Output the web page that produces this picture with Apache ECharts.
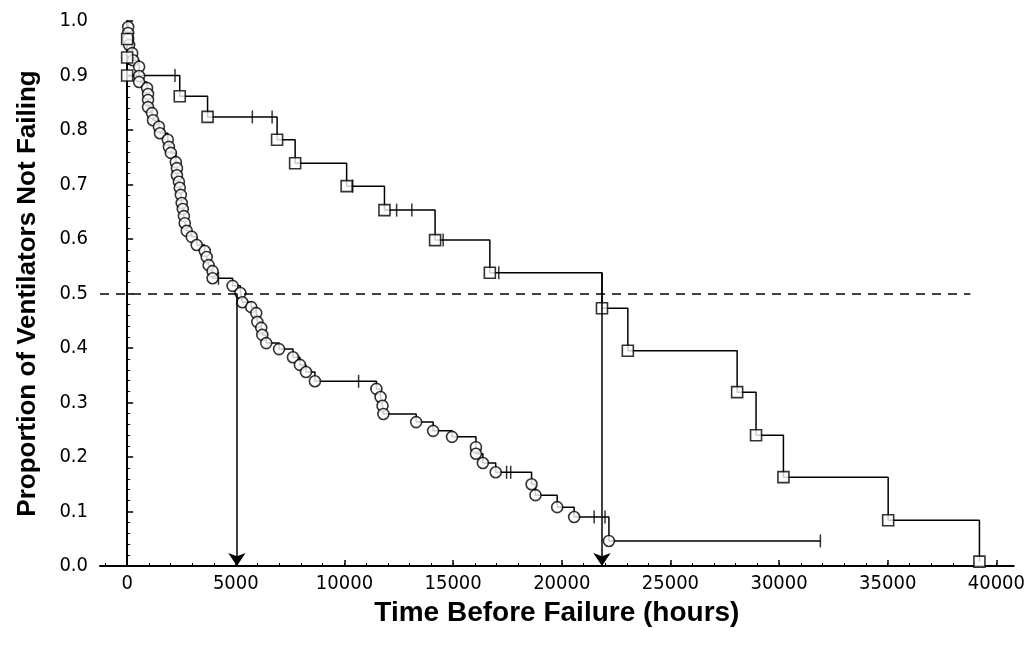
<!DOCTYPE html>
<html>
<head>
<meta charset="utf-8">
<script src="https://cdn.jsdelivr.net/npm/echarts@6/dist/echarts.min.js"></script>
<style>
  html, body { margin: 0; padding: 0; background: #fff; }
  #chart { width: 1028px; height: 649px; }
</style>
</head>
<body>
<div id="chart"></div>
<script>
// survival curve 1 (circles): [hours, proportion]
const circleEvents = [
  [46, 0.989], [46, 0.978], [46, 0.967], [90, 0.956], [230, 0.941], [275, 0.928],
  [550, 0.916], [550, 0.899], [550, 0.888], [915, 0.877], [960, 0.866], [960, 0.855],
  [960, 0.842], [1140, 0.831], [1190, 0.818], [1460, 0.806], [1510, 0.794], [1870, 0.782],
  [1920, 0.769], [2010, 0.758], [2240, 0.741], [2290, 0.730], [2290, 0.717], [2380, 0.705],
  [2420, 0.694], [2470, 0.681], [2510, 0.666], [2560, 0.655], [2610, 0.642], [2650, 0.629],
  [2740, 0.615], [2970, 0.604], [3200, 0.589], [3570, 0.578], [3660, 0.567], [3750, 0.552],
  [3930, 0.541], [3930, 0.528], [4850, 0.514], [5210, 0.501], [5300, 0.484], [5710, 0.475],
  [5940, 0.464], [5990, 0.448], [6170, 0.437], [6220, 0.424], [6400, 0.409], [6990, 0.398],
  [7630, 0.383], [7950, 0.369], [8230, 0.356], [8640, 0.339], [11470, 0.325], [11660, 0.310],
  [11750, 0.294], [11790, 0.279], [13300, 0.264], [14080, 0.248], [14950, 0.237], [16050, 0.218],
  [16050, 0.206], [16370, 0.189], [16960, 0.172], [18610, 0.150], [18790, 0.130], [19790, 0.108],
  [20570, 0.090], [22170, 0.046]
];
const circleCensors = [
  [4200, 0.528], [10650, 0.339], [17460, 0.172], [17650, 0.172],
  [21490, 0.090], [21990, 0.090], [31900, 0.046]
];

// survival curve 2 (squares)
const squareEvents = [
  [0, 0.967], [0, 0.933], [0, 0.900], [2420, 0.862], [3700, 0.824], [6900, 0.782],
  [7730, 0.739], [10100, 0.697], [11840, 0.653], [14170, 0.598], [16690, 0.538],
  [21850, 0.473], [23040, 0.395], [28070, 0.319], [28940, 0.240], [30200, 0.163],
  [35020, 0.084], [39220, 0.008]
];
const squareCensors = [
  [2200, 0.900], [5760, 0.824], [6670, 0.824], [10380, 0.697], [12400, 0.653],
  [13100, 0.653], [14540, 0.598], [17100, 0.538]
];

// median read-off arrows: [hours, start proportion]
const medianArrows = [[5050, 0.5], [21850, 0.538]];
const halfLevel = 0.5;
const halfLineEnd = 38800;

const xMajorTicks = [0, 5000, 10000, 15000, 20000, 25000, 30000, 35000, 40000];
const xMinorTicks = [-1000, 0, 1000, 2000, 3000, 4000, 5000, 6000, 7000, 8000, 9000, 10000,
  11000, 12000, 13000, 14000, 15000, 16000, 17000, 18000, 19000, 20000, 21000, 22000, 23000,
  24000, 25000, 26000, 27000, 28000, 29000, 30000, 31000, 32000, 33000, 34000, 35000, 36000,
  37000, 38000, 39000, 40000];

const X_MIN = -1250;
const X_MAX = 40800;
const FONT = '"Liberation Sans Narrow", "DejaVu Sans Condensed", "Liberation Sans", Arial, sans-serif';
const TITLE_FONT = '"Liberation Sans", Arial, sans-serif';

function stepData(events, censors) {
  const pts = events.concat(censors).slice();
  pts.sort((a, b) => a[0] - b[0] || b[1] - a[1]);
  return [[0, 1]].concat(pts);
}

const chart = echarts.init(document.getElementById('chart'));

const lineStyle = { color: '#000', width: 1.5 };
const markerStyle = { color: '#fff', borderColor: '#000', borderWidth: 1.6 };

chart.setOption({
  animation: false,
  backgroundColor: '#fff',
  grid: { left: 100, right: 8, top: 21, bottom: 83 },
  xAxis: [
    {
      type: 'value',
      min: X_MIN,
      max: X_MAX,
      name: 'Time Before Failure (hours)',
      nameLocation: 'middle',
      nameGap: 26,
      nameTextStyle: { color: '#000', fontSize: 28, fontWeight: 'bold', fontFamily: TITLE_FONT },
      axisLine: { lineStyle: { color: '#000', width: 2 } },
      axisTick: { inside: true, length: 6, customValues: xMajorTicks, lineStyle: { color: '#000', width: 1.5 } },
      axisLabel: {
        customValues: xMajorTicks, color: '#000', fontSize: 20, fontFamily: FONT, margin: 8,
        formatter: v => String(v)
      },
      splitLine: { show: false }
    },
    {
      type: 'value',
      min: X_MIN,
      max: X_MAX,
      position: 'bottom',
      axisLine: { show: false },
      axisTick: { inside: true, length: 3, customValues: xMinorTicks, lineStyle: { color: '#000', width: 1 } },
      axisLabel: { show: false },
      splitLine: { show: false }
    }
  ],
  yAxis: {
    type: 'value',
    min: 0,
    max: 1,
    interval: 0.1,
    name: 'Proportion of Ventilators Not Failing',
    nameLocation: 'middle',
    nameGap: 59,
    nameTextStyle: { color: '#000', fontSize: 26, fontWeight: 'bold', fontFamily: TITLE_FONT },
    axisLine: { show: true, lineStyle: { color: '#000', width: 2 } },
    axisTick: { show: true, inside: true, length: 6, lineStyle: { color: '#000', width: 1.5 } },
    minorTick: { show: true, splitNumber: 5, length: 3, lineStyle: { color: '#000', width: 1 } },
    axisLabel: { color: '#000', fontSize: 20, fontFamily: FONT, margin: 12, formatter: v => v.toFixed(1) },
    splitLine: { show: false }
  },
  series: [
    {
      name: 'curve1',
      type: 'line',
      step: 'end',
      symbol: 'none',
      data: stepData(circleEvents, circleCensors),
      lineStyle: lineStyle,
      z: 2,
      markLine: {
        silent: true,
        symbol: ['none', 'arrow'],
        symbolSize: 13,
        label: { show: false },
        lineStyle: { color: '#000', width: 1.5, type: 'solid' },
        data: medianArrows.map(m => [{ coord: [m[0], m[1]] }, { coord: [m[0], 0] }])
      }
    },
    {
      name: 'curve2',
      type: 'line',
      step: 'end',
      symbol: 'none',
      data: stepData(squareEvents, squareCensors),
      lineStyle: lineStyle,
      z: 2,
      markLine: {
        silent: true,
        symbol: ['none', 'none'],
        label: { show: false },
        lineStyle: { color: '#000', width: 1.5, type: [9, 7] },
        data: [[{ coord: [X_MIN, halfLevel] }, { coord: [halfLineEnd, halfLevel] }]]
      }
    },
    {
      name: 'circles',
      type: 'scatter',
      symbol: 'circle',
      symbolSize: 11,
      data: circleEvents,
      itemStyle: markerStyle,
      z: 4
    },
    {
      name: 'squares',
      type: 'scatter',
      symbol: 'rect',
      symbolSize: 11,
      data: squareEvents,
      itemStyle: markerStyle,
      z: 4
    },
    {
      name: 'censored',
      type: 'scatter',
      symbol: 'rect',
      symbolSize: [1.5, 13],
      data: circleCensors.concat(squareCensors),
      itemStyle: { color: '#000' },
      z: 3
    }
  ]
});
</script>
</body>
</html>
